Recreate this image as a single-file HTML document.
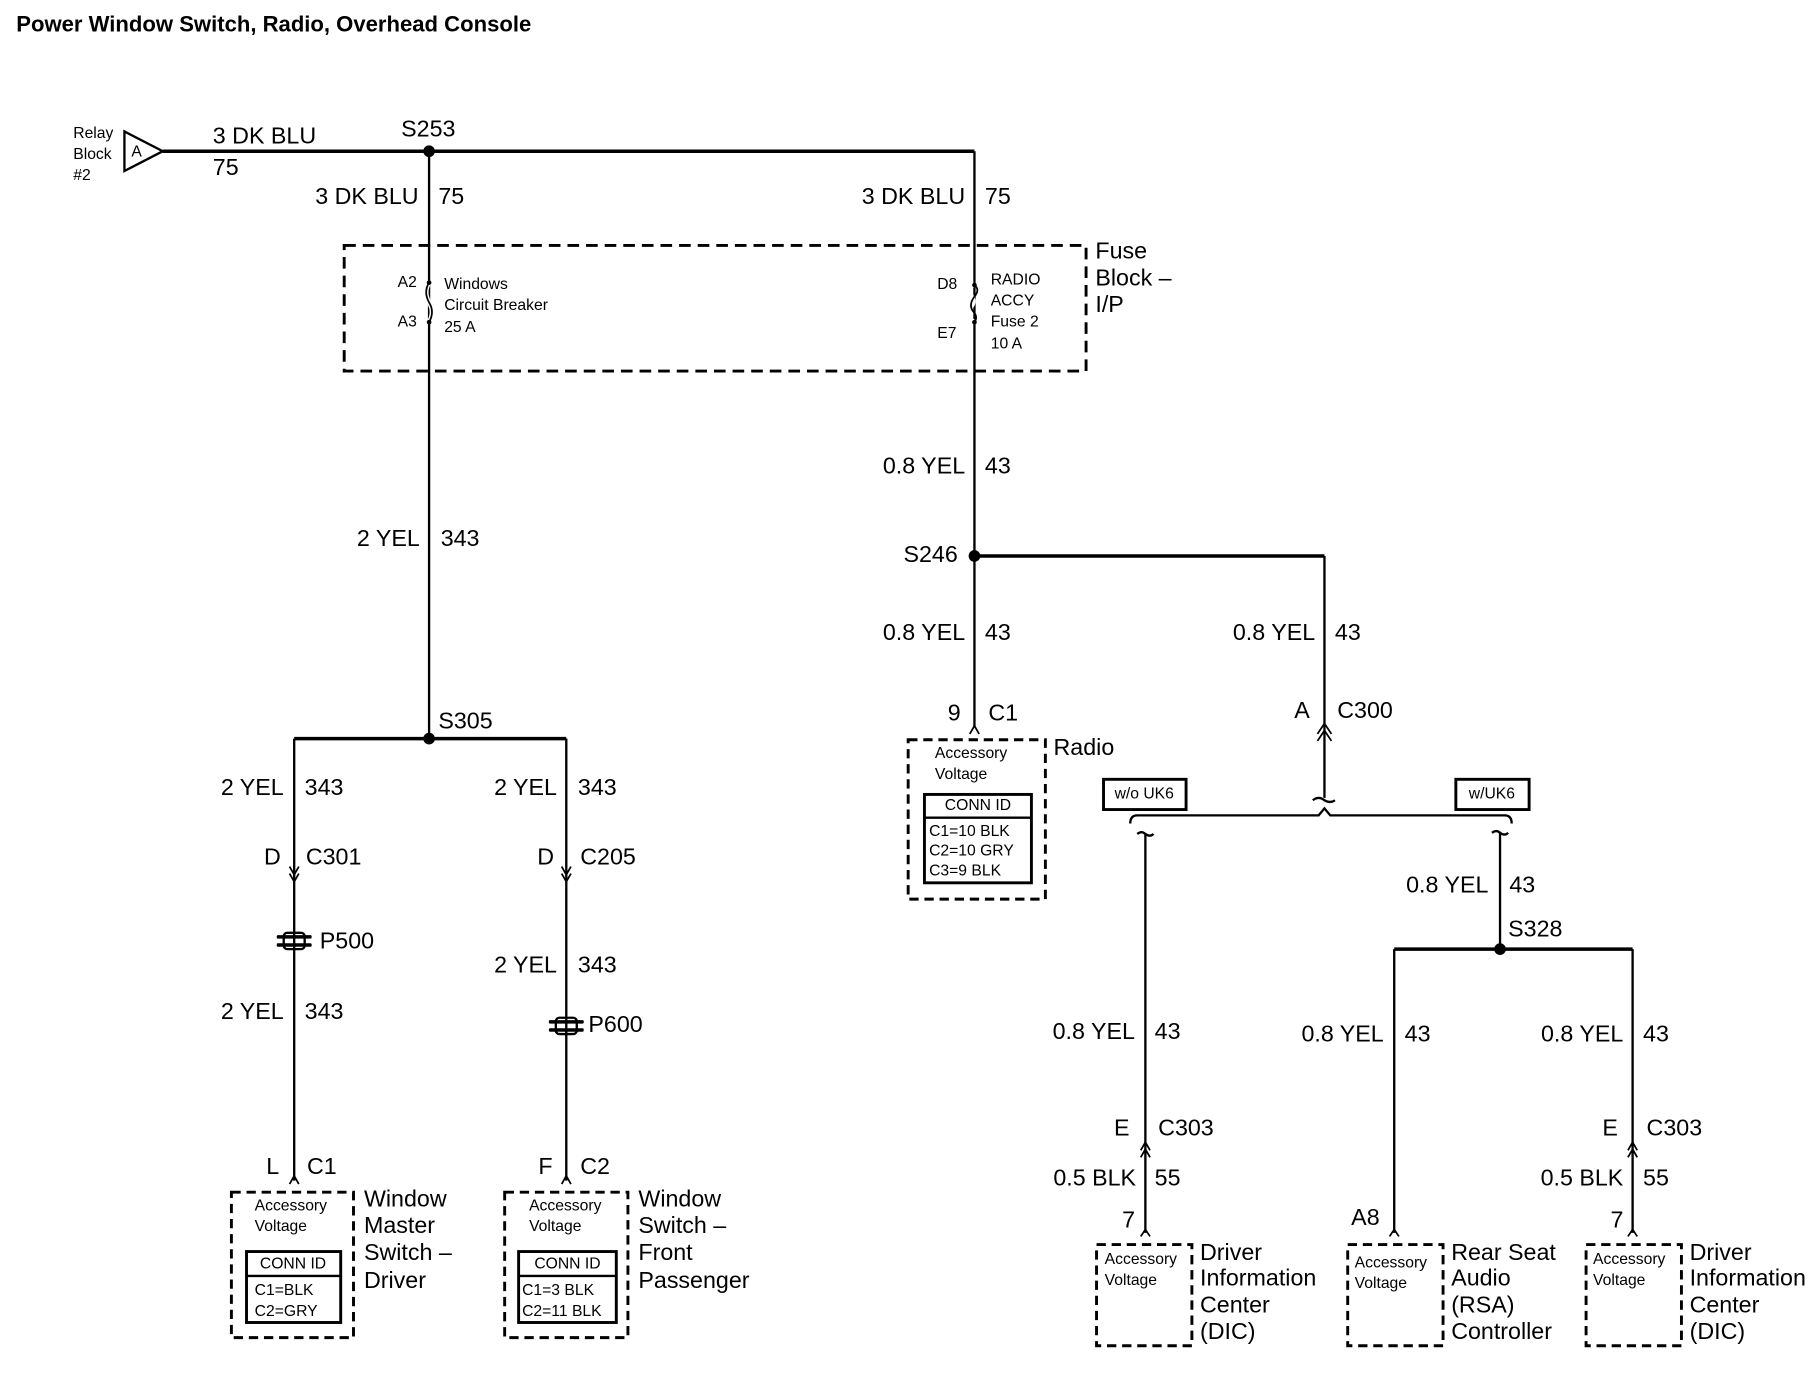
<!DOCTYPE html>
<html><head><meta charset="utf-8"><style>
html,body{margin:0;padding:0;background:#fff;}
svg{display:block;}
text{font-family:"Liberation Sans",sans-serif;fill:#000;dominant-baseline:middle;}
.m{font-size:20px;}
.s{font-size:13.5px;}
.b{font-size:19px;font-weight:bold;}
</style></head><body>
<svg width="1814" height="1376" viewBox="0 0 1560 1183" preserveAspectRatio="none" xmlns="http://www.w3.org/2000/svg">
<g fill="none" stroke="#000" stroke-width="2">
<path d="M140 130 H838" stroke-width="3"/>
<path d="M107 113 L140 130 L107 147 Z"/>
<path d="M369 130 V635"/>
<path d="M838 130 V625"/>
<rect x="296" y="211" width="638" height="108" stroke-dasharray="10,6" stroke-width="2.5"/>
<path d="M369 243 q-5 8 0 17 q5 8 0 17" stroke="#fff" stroke-width="4"/>
<path d="M369 243 q-5 8 0 17 q5 8 0 17" stroke-width="1.5"/>
<path d="M838 245 q-6 0 -4 8 q6 6 0 12 q-4 8 4 12" stroke="#fff" stroke-width="4"/>
<path d="M838 245 q5 4 0 10 q-6 8 0 14 q3 4 0 8" stroke-width="1.5"/>
<path d="M838 478 H1139" stroke-width="3"/>
<path d="M1139 478 V686"/>
<path d="M1133 631 L1139 622 L1145 631 M1133 637 L1139 628 L1145 637" stroke-width="1.5"/>
<path d="M834 631 L838 624 L842 631" stroke-width="1.5"/>
<path d="M1129 688 q5 -4 10 0 q5 3 9 0"/>
<path d="M972 708 q0 -7 6 -7 H1134 L1139 695 L1144 701 H1294 q6 0 6 7"/>
<path d="M978 717 q4 -3 7 0 q4 3 7 0 M985 717 V1060"/>
<path d="M1283 716 q4 -3 7 0 q4 3 7 0 M1290 716 V816"/>
<path d="M1199 816 H1404" stroke-width="3"/>
<path d="M1199 816 V1060 M1404 816 V1060"/>
<path d="M981 989 L985 982 L989 989 M981 995 L985 988 L989 995" stroke-width="1.5"/>
<path d="M1400 989 L1404 982 L1408 989 M1400 995 L1404 988 L1408 995" stroke-width="1.5"/>
<path d="M981 1063 L985 1057 L989 1063 M1195 1063 L1199 1057 L1203 1063 M1400 1063 L1404 1057 L1408 1063" stroke-width="1.5"/>
<rect x="943" y="1070" width="82" height="87" stroke-dasharray="8,5" stroke-width="2.5"/>
<rect x="1159" y="1070" width="82" height="87" stroke-dasharray="8,5" stroke-width="2.5"/>
<rect x="1364" y="1070" width="82" height="87" stroke-dasharray="8,5" stroke-width="2.5"/>
<rect x="949" y="670" width="71" height="26" stroke-width="2.5"/>
<rect x="1252" y="670" width="63" height="26" stroke-width="2.5"/>
<rect x="781" y="636" width="118" height="137" stroke-dasharray="8,5" stroke-width="2.5"/>
<rect x="795" y="683" width="92" height="76" stroke-width="2.5"/>
<path d="M795 703 H887" stroke-width="2"/>
<path d="M253 635 H487" stroke-width="3"/>
<path d="M253 635 V1015 M487 635 V1015"/>
<path d="M249 751 L253 758 L257 751 M249 745 L253 752 L257 745" stroke-width="1.5"/>
<path d="M483 751 L487 758 L491 751 M483 745 L487 752 L491 745" stroke-width="1.5"/>
<path d="M249 1018 L253 1011 L257 1018 M483 1018 L487 1011 L491 1018" stroke-width="1.5"/>
<rect x="199" y="1025" width="105" height="125" stroke-dasharray="8,5" stroke-width="2.5"/>
<rect x="434" y="1025" width="106" height="125" stroke-dasharray="8,5" stroke-width="2.5"/>
<rect x="212" y="1076" width="81" height="61" stroke-width="2.5"/>
<path d="M212 1097 H293"/>
<rect x="446" y="1076" width="84" height="61" stroke-width="2.5"/>
<path d="M446 1097 H530"/>
</g>
<g fill="#000">
<circle cx="369" cy="130" r="5"/><circle cx="838" cy="478" r="5"/><circle cx="369" cy="635" r="5"/><circle cx="1290" cy="816" r="5"/>
<circle cx="369" cy="243" r="2"/><circle cx="369" cy="277" r="2"/><circle cx="838" cy="245" r="2"/><circle cx="838" cy="277" r="2"/>
<rect x="238" y="804" width="30" height="3" rx="1"/><rect x="238" y="811" width="30" height="3" rx="1"/><rect x="244" y="802" width="18" height="14" rx="3" fill="none" stroke="#000" stroke-width="2"/>
<rect x="472" y="877" width="30" height="3" rx="1"/><rect x="472" y="884" width="30" height="3" rx="1"/><rect x="478" y="875" width="18" height="14" rx="3" fill="none" stroke="#000" stroke-width="2"/>
</g>
<text x="14" y="22" class="b">Power Window Switch, Radio, Overhead Console</text>
<text x="63" y="115" class="s">Relay</text><text x="63" y="133" class="s">Block</text><text x="63" y="151" class="s">#2</text>
<text x="113" y="131" class="s">A</text>
<text x="183" y="118" class="m">3 DK BLU</text><text x="183" y="145" class="m">75</text>
<text x="345" y="112" class="m">S253</text>
<text x="360" y="170" class="m" text-anchor="end">3 DK BLU</text><text x="377" y="170" class="m">75</text>
<text x="830" y="170" class="m" text-anchor="end">3 DK BLU</text><text x="847" y="170" class="m">75</text>
<text x="942" y="217" class="m">Fuse</text><text x="942" y="240" class="m">Block –</text><text x="942" y="263" class="m">I/P</text>
<text x="342" y="243" class="s">A2</text><text x="342" y="277" class="s">A3</text>
<text x="382" y="245" class="s">Windows</text><text x="382" y="263" class="s">Circuit Breaker</text><text x="382" y="282" class="s">25 A</text>
<text x="806" y="245" class="s">D8</text><text x="806" y="287" class="s">E7</text>
<text x="852" y="241" class="s">RADIO</text><text x="852" y="259" class="s">ACCY</text><text x="852" y="277" class="s">Fuse 2</text><text x="852" y="296" class="s">10 A</text>
<text x="361" y="464" class="m" text-anchor="end">2 YEL</text><text x="379" y="464" class="m">343</text>
<text x="830" y="402" class="m" text-anchor="end">0.8 YEL</text><text x="847" y="402" class="m">43</text>
<text x="777" y="478" class="m">S246</text>
<text x="830" y="545" class="m" text-anchor="end">0.8 YEL</text><text x="847" y="545" class="m">43</text>
<text x="1131" y="545" class="m" text-anchor="end">0.8 YEL</text><text x="1148" y="545" class="m">43</text>
<text x="815" y="614" class="m">9</text><text x="850" y="614" class="m">C1</text>
<text x="1113" y="612" class="m">A</text><text x="1150" y="612" class="m">C300</text>
<text x="906" y="644" class="m">Radio</text>
<text x="804" y="648" class="s">Accessory</text><text x="804" y="666" class="s">Voltage</text>
<text x="841" y="693" class="s" text-anchor="middle">CONN ID</text>
<text x="799" y="715" class="s">C1=10 BLK</text><text x="799" y="732" class="s">C2=10 GRY</text><text x="799" y="749" class="s">C3=9 BLK</text>
<text x="984" y="683" class="s" text-anchor="middle">w/o UK6</text><text x="1283" y="683" class="s" text-anchor="middle">w/UK6</text>
<text x="1280" y="762" class="m" text-anchor="end">0.8 YEL</text><text x="1298" y="762" class="m">43</text>
<text x="1297" y="800" class="m">S328</text>
<text x="976" y="888" class="m" text-anchor="end">0.8 YEL</text><text x="993" y="888" class="m">43</text>
<text x="1190" y="890" class="m" text-anchor="end">0.8 YEL</text><text x="1208" y="890" class="m">43</text>
<text x="1396" y="890" class="m" text-anchor="end">0.8 YEL</text><text x="1413" y="890" class="m">43</text>
<text x="958" y="971" class="m">E</text><text x="996" y="971" class="m">C303</text>
<text x="1378" y="971" class="m">E</text><text x="1416" y="971" class="m">C303</text>
<text x="977" y="1014" class="m" text-anchor="end">0.5 BLK</text><text x="993" y="1014" class="m">55</text>
<text x="1396" y="1014" class="m" text-anchor="end">0.5 BLK</text><text x="1413" y="1014" class="m">55</text>
<text x="965" y="1050" class="m">7</text><text x="1162" y="1048" class="m">A8</text><text x="1385" y="1050" class="m">7</text>
<text x="950" y="1083" class="s">Accessory</text><text x="950" y="1101" class="s">Voltage</text>
<text x="1165" y="1086" class="s">Accessory</text><text x="1165" y="1104" class="s">Voltage</text>
<text x="1370" y="1083" class="s">Accessory</text><text x="1370" y="1101" class="s">Voltage</text>
<text x="1032" y="1078" class="m">Driver</text><text x="1032" y="1100" class="m">Information</text><text x="1032" y="1123" class="m">Center</text><text x="1032" y="1146" class="m">(DIC)</text>
<text x="1248" y="1078" class="m">Rear Seat</text><text x="1248" y="1100" class="m">Audio</text><text x="1248" y="1123" class="m">(RSA)</text><text x="1248" y="1146" class="m">Controller</text>
<text x="1453" y="1078" class="m">Driver</text><text x="1453" y="1100" class="m">Information</text><text x="1453" y="1123" class="m">Center</text><text x="1453" y="1146" class="m">(DIC)</text>
<text x="377" y="621" class="m">S305</text>
<text x="244" y="678" class="m" text-anchor="end">2 YEL</text><text x="262" y="678" class="m">343</text>
<text x="479" y="678" class="m" text-anchor="end">2 YEL</text><text x="497" y="678" class="m">343</text>
<text x="227" y="738" class="m">D</text><text x="263" y="738" class="m">C301</text>
<text x="462" y="738" class="m">D</text><text x="499" y="738" class="m">C205</text>
<text x="275" y="810" class="m">P500</text>
<text x="479" y="831" class="m" text-anchor="end">2 YEL</text><text x="497" y="831" class="m">343</text>
<text x="506" y="882" class="m">P600</text>
<text x="244" y="871" class="m" text-anchor="end">2 YEL</text><text x="262" y="871" class="m">343</text>
<text x="229" y="1004" class="m">L</text><text x="264" y="1004" class="m">C1</text>
<text x="463" y="1004" class="m">F</text><text x="499" y="1004" class="m">C2</text>
<text x="219" y="1037" class="s">Accessory</text><text x="219" y="1055" class="s">Voltage</text>
<text x="455" y="1037" class="s">Accessory</text><text x="455" y="1055" class="s">Voltage</text>
<text x="252" y="1087" class="s" text-anchor="middle">CONN ID</text>
<text x="219" y="1110" class="s">C1=BLK</text><text x="219" y="1128" class="s">C2=GRY</text>
<text x="488" y="1087" class="s" text-anchor="middle">CONN ID</text>
<text x="449" y="1110" class="s">C1=3 BLK</text><text x="449" y="1128" class="s">C2=11 BLK</text>
<text x="313" y="1032" class="m">Window</text><text x="313" y="1055" class="m">Master</text><text x="313" y="1078" class="m">Switch –</text><text x="313" y="1102" class="m">Driver</text>
<text x="549" y="1032" class="m">Window</text><text x="549" y="1055" class="m">Switch –</text><text x="549" y="1078" class="m">Front</text><text x="549" y="1102" class="m">Passenger</text>
</svg>
</body></html>
